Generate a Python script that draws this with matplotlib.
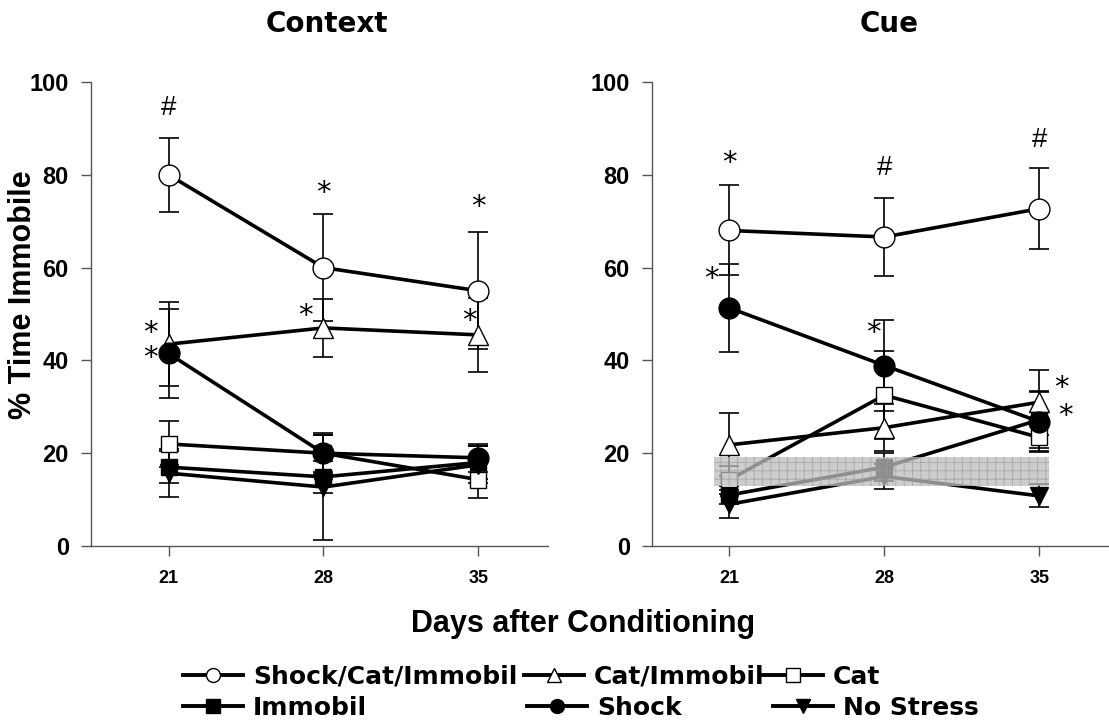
import matplotlib
matplotlib.use("Agg")
import matplotlib.pyplot as plt
from matplotlib.lines import Line2D

plt.rcParams['font.family'] = ['Liberation Sans', 'DejaVu Sans']
plt.rcParams['hatch.linewidth'] = 0.6
plt.rcParams['hatch.color'] = '#8a8a8a'

days = [21, 28, 35]

# Context panel (mean, sem)
ctx_sci = [80, 60, 55]
ctx_sci_err = [8, 11.6, 12.6]
ctx_catimm = [43.5, 47, 45.5]
ctx_catimm_err = [9, 6.3, 8]
ctx_cat = [22, 20, 14.3]
ctx_cat_err = [5, 4.4, 4]
ctx_immobil = [17, 14.9, 18]
ctx_immobil_err = [3.5, 3.5, 3.5]
ctx_shock = [41.5, 20, 19]
ctx_shock_err = [9.5, 4, 3]
ctx_nostress = [15.7, 12.7, 17.5]
ctx_nostress_err = [5.2, 11.3, 4]

# Cue panel (mean, sem)
cue_sci = [68, 66.6, 72.7]
cue_sci_err = [9.7, 8.5, 8.7]
cue_catimm = [21.8, 25.5, 31]
cue_catimm_err = [6.8, 5, 7]
cue_cat = [14.3, 32.5, 23.4]
cue_cat_err = [3, 9.5, 3]
cue_immobil = [11, 17, 27.2]
cue_immobil_err = [2, 3, 6]
cue_shock = [51.3, 38.9, 26.8]
cue_shock_err = [9.4, 9.9, 6.5]
cue_nostress = [9, 15, 10.8]
cue_nostress_err = [3, 2.7, 2.5]

# shaded reference band on the cue panel
band_lo, band_hi = 13, 19.1
band_x0, band_x1 = 20.3, 35.45

labels = ['Shock/Cat/Immobil', 'Cat/Immobil', 'Cat', 'Immobil', 'Shock', 'No Stress']
markers = ['o', '^', 's', 's', 'o', 'v']
faces = ['white', 'white', 'white', 'black', 'black', 'black']
msizes = [15, 14, 12, 12, 15, 13]

ctx_sets = [(ctx_sci, ctx_sci_err), (ctx_catimm, ctx_catimm_err), (ctx_cat, ctx_cat_err),
            (ctx_immobil, ctx_immobil_err), (ctx_shock, ctx_shock_err), (ctx_nostress, ctx_nostress_err)]
cue_sets = [(cue_sci, cue_sci_err), (cue_catimm, cue_catimm_err), (cue_cat, cue_cat_err),
            (cue_immobil, cue_immobil_err), (cue_shock, cue_shock_err), (cue_nostress, cue_nostress_err)]

# star / hash annotations: (x, y, text)
ctx_marks = [(21, 94.5, '#'), (28, 76, '*'), (35, 73, '*'),
             (20.2, 46, '*'), (27.2, 49.5, '*'), (34.6, 48.5, '*'), (20.2, 40.5, '*')]
cue_marks = [(21, 82.5, '*'), (28, 81.5, '#'), (35, 87.5, '#'),
             (20.2, 57.5, '*'), (27.5, 46, '*'), (36.0, 34, '*'), (36.2, 28, '*')]

fig = plt.figure(figsize=(11.09, 7.25), dpi=100)
ax1 = fig.add_axes([0.0821, 0.2469, 0.4121, 0.64])
ax2 = fig.add_axes([0.5879, 0.2469, 0.4121, 0.64])

for ax, sets, marks in [(ax1, ctx_sets, ctx_marks), (ax2, cue_sets, cue_marks)]:
    for (vals, errs), m, fc, ms in zip(sets, markers, faces, msizes):
        ax.errorbar(days, vals, yerr=errs, fmt='none', ecolor='black', elinewidth=1.2,
                    capsize=7, capthick=1.2, zorder=2)
        ax.plot(days, vals, color='black', lw=2.6, marker=m, ms=ms, mfc=fc, mec='black',
                mew=1.0, zorder=3)
    for x, y, t in marks:
        if t == '*':
            ax.text(x, y, t, ha='center', va='center', fontsize=21, family=['DejaVu Sans'], zorder=5)
        else:
            ax.text(x, y, t, ha='center', va='center', fontsize=20, zorder=5)
    ax.set_xlim(17.5, 38.15)
    ax.set_ylim(0, 100)
    ax.set_xticks(days)
    ax.set_yticks([0, 20, 40, 60, 80, 100])
    ax.spines['top'].set_visible(False)
    ax.spines['right'].set_visible(False)
    for s in ['left', 'bottom']:
        ax.spines[s].set_color('#555555')
        ax.spines[s].set_linewidth(1.0)
    ax.tick_params(axis='both', direction='out', length=7, width=1.0, color='#555555')
    ax.tick_params(axis='x', labelsize=13, pad=10)
    ax.tick_params(axis='y', labelsize=17, pad=9)
    for lab in ax.get_xticklabels() + ax.get_yticklabels():
        lab.set_fontweight('bold')

ax2.fill_between([band_x0, band_x1], band_lo, band_hi, facecolor='#bdbdbd', edgecolor='#9a9a9a',
                 hatch='++', lw=0, alpha=0.75, zorder=4)

fig.text(23 / 1109, 1 - 295 / 725, '% Time Immobile', rotation=90, ha='center', va='center',
         fontsize=22, fontweight='bold')
fig.text(327 / 1109, 1 - 24 / 725, 'Context', ha='center', va='center', fontsize=20,
         fontweight='bold', family=['DejaVu Sans'])
fig.text(889 / 1109, 1 - 24 / 725, 'Cue', ha='center', va='center', fontsize=20,
         fontweight='bold', family=['DejaVu Sans'])
fig.text(583 / 1109, 1 - 624 / 725, 'Days after Conditioning', ha='center', va='center',
         fontsize=22, fontweight='bold')

# legend entries placed as in the original layout
leg_pos = [(183, 677), (524, 677), (763, 677), (183, 708), (527, 708), (773, 708)]
for lab, m, fc, (px, py) in zip(labels, markers, faces, leg_pos):
    h = Line2D([], [], color='black', lw=2.8, marker=m, ms=10, mfc=fc, mec='black', mew=1.0)
    fig.legend(handles=[h], labels=[lab], loc='center left',
               bbox_to_anchor=(px / 1109, 1 - py / 725), frameon=False,
               handlelength=2.4, handletextpad=0.4, borderpad=0, borderaxespad=0,
               prop={'weight': 'bold', 'size': 18, 'family': ['DejaVu Sans']})

fig.savefig('out.png', dpi=100)
